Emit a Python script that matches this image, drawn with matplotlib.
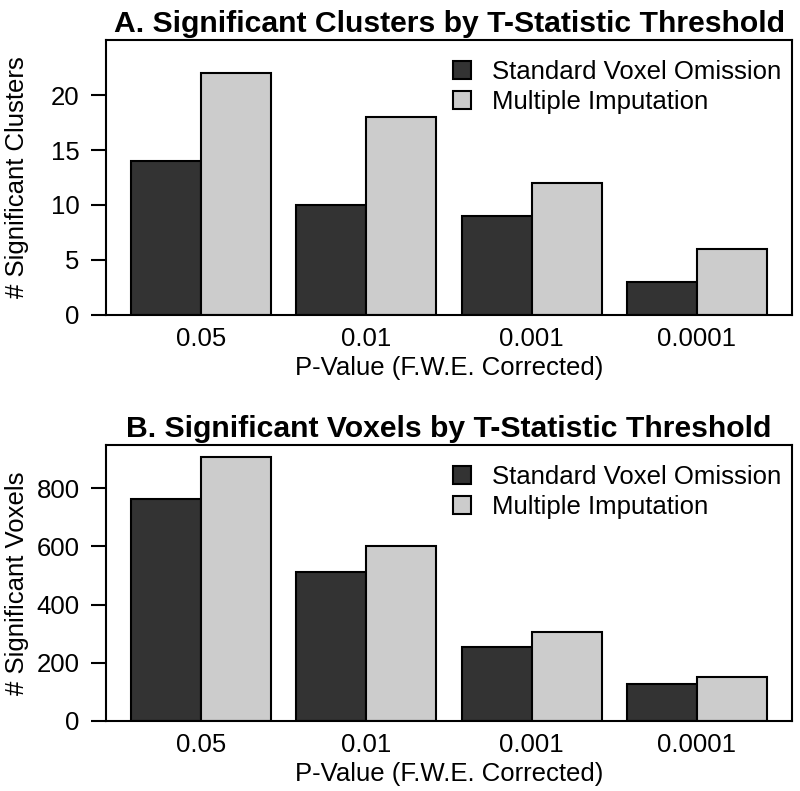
import numpy as np
import matplotlib
matplotlib.use("Agg")
import matplotlib.pyplot as plt
from matplotlib.patches import Patch

plt.rcParams['font.family'] = ['Liberation Sans', 'DejaVu Sans']

pvals = ["0.05", "0.01", "0.001", "0.0001"]
series = ["Standard Voxel Omission", "Multiple Imputation"]
clusters_svo = [14, 10, 9, 3]
clusters_mi = [22, 18, 12, 6]
voxels_svo = [764, 513, 255, 126]
voxels_mi = [907, 601, 307, 152]

dark = "#333333"
light = "#cccccc"
fs = 18.5
gap = 0.36


def panel(ax, a, b, title, ylabel, ymax, yticks):
    n = len(pvals)
    left = gap + np.arange(n) * (2 + gap)
    ax.bar(left, a, width=1, align="edge", color=dark, edgecolor="black", linewidth=1.5)
    ax.bar(left + 1, b, width=1, align="edge", color=light, edgecolor="black", linewidth=1.5)
    ax.set_xlim(0, n * 2 + (n + 1) * gap)
    ax.set_ylim(0, ymax)
    ax.set_xticks(left + 1)
    ax.set_xticklabels(pvals, fontsize=fs)
    ax.tick_params(axis="x", length=0, pad=9)
    ax.set_yticks(yticks)
    ax.tick_params(axis="y", labelsize=fs, length=11, width=1.5, pad=8)
    for s in ax.spines.values():
        s.set_linewidth(1.5)
    ax.set_title(title, fontsize=21.7, fontweight="bold", pad=6)
    ax.set_ylabel(ylabel, fontsize=fs)
    ax.yaxis.set_label_coords(-0.112, 0.5)
    ax.set_xlabel("P-Value (F.W.E. Corrected)", fontsize=fs, labelpad=3)
    handles = [Patch(facecolor=dark, edgecolor="black", linewidth=1.5),
               Patch(facecolor=light, edgecolor="black", linewidth=1.5)]
    ax.legend(handles, series, loc="upper right", bbox_to_anchor=(1.0073, 0.982),
              frameon=False, fontsize=fs,
              handlelength=0.7, handleheight=0.7, handletextpad=0.85,
              labelspacing=0.2, borderpad=0.1, borderaxespad=0.5)


fig = plt.figure(figsize=(8, 7.91), dpi=100)
ax1 = fig.add_axes([0.1325, 0.6018, 0.99 - 0.1325, 0.9494 - 0.6018])
ax2 = fig.add_axes([0.1325, 0.0885, 0.99 - 0.1325, 0.4374 - 0.0885])

panel(ax1, clusters_svo, clusters_mi, "A. Significant Clusters by T-Statistic Threshold",
      "# Significant Clusters", 25, [0, 5, 10, 15, 20])
panel(ax2, voxels_svo, voxels_mi, "B. Significant Voxels by T-Statistic Threshold",
      "# Significant Voxels", 948, [0, 200, 400, 600, 800])

fig.savefig("out.png", dpi=100)
